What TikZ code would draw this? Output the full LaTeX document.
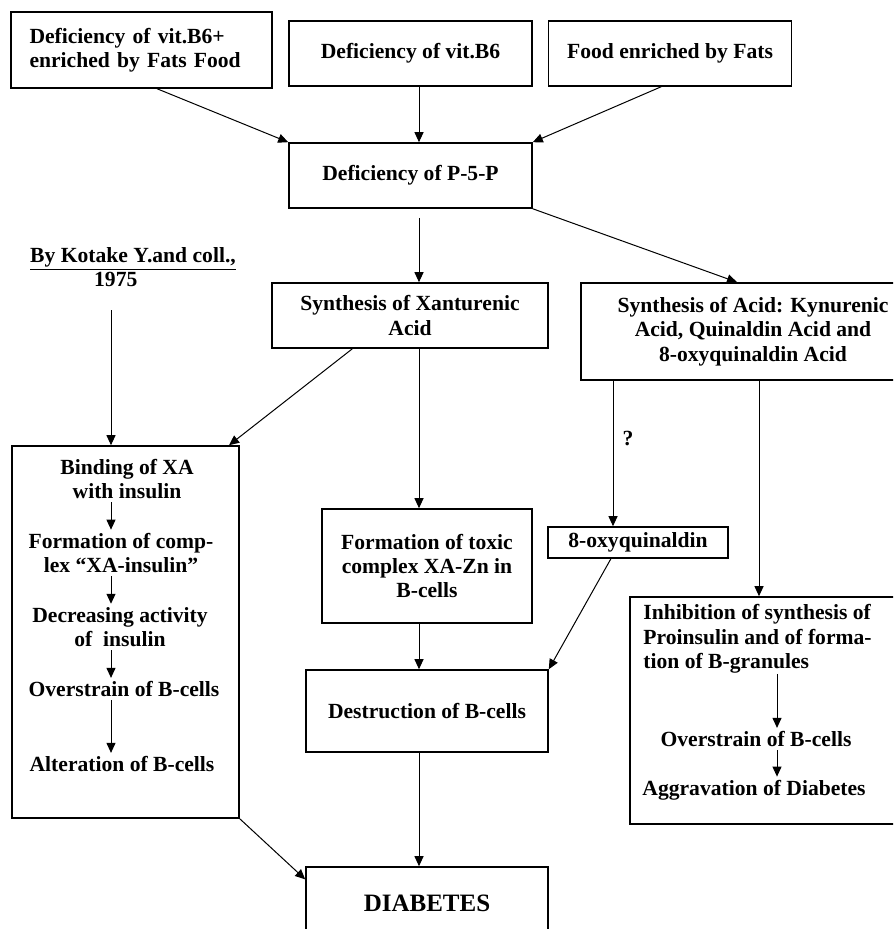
\documentclass[tikz,border=0pt]{standalone}
\usepackage{fontspec}
\setmainfont{Liberation Serif}
\usetikzlibrary{arrows.meta,positioning}
\tikzset{
  cause box/.style={
    rectangle, draw=black, line width=0.8pt, align=center,
    inner sep=0pt, font=\bfseries\fontsize{10.8}{12.2}\selectfont
  },
  step text/.style={
    inner sep=1.5pt, align=center,
    font=\bfseries\fontsize{10.8}{12.2}\selectfont
  },
  cause arrow/.style={-{Triangle[length=5pt,width=4.5pt]}, line width=0.5pt, black}
}

\begin{document}
\begin{tikzpicture}[x=0.5pt, y=-0.5pt]
    \clip (0,0) rectangle (893,929);
    \coordinate (midcol) at (419,0);
    \coordinate (leftcol) at (111,0);
    \coordinate (qcol) at (613,0);
    \coordinate (kcol) at (759,0);
    \coordinate (icol) at (777,0);
    \node[cause box, minimum width=130.5pt, minimum height=38pt, text width=112pt,
      inner xsep=9.25pt, align=left] (vitfat) at (141.5,50) {Deficiency of vit.B6+\\enriched by Fats Food};
    \node[cause box, minimum width=121.5pt, minimum height=32.5pt] (vitb6) at (410.5,53.5) {Deficiency of vit.B6};
    \node[cause box, minimum width=121.5pt, minimum height=32.5pt] (fatfood) at (670,53.5) {Food enriched by Fats};
    \node[cause box, minimum width=121.5pt, minimum height=32.5pt] (pfp) at (410.5,175.5) {Deficiency of P-5-P};
    \node[step text, align=left] (kotake) at (133,267) {\underline{By Kotake Y.and coll.,}\\\hspace*{32pt}1975};
    \node[cause box, minimum width=138pt, minimum height=32.5pt] (xant) at (410,315.5) {Synthesis of Xanturenic\\Acid};
    \node[cause box, minimum width=172pt, minimum height=48.5pt] (kyn) at (753,331.5) {Synthesis of Acid: Kynurenic\\
      Acid, Quinaldin Acid and\\8-oxyquinaldin Acid};
    \node[cause box, minimum width=113.5pt, minimum height=186pt] (xabox) at (125.5,632) {};
    \node[step text] (bind) at (127,479) {Binding of XA\\with insulin};
    \node[step text] (complex) at (121,553) {Formation of comp-\\lex “XA-insulin”};
    \node[step text] (decrease) at (120,627) {Decreasing activity\\of\ \ insulin};
    \node[step text] (overleft) at (124,689) {Overstrain of B-cells};
    \node[step text] (alter) at (122,764) {Alteration of B-cells};
    \node[cause box, minimum width=105pt, minimum height=57pt] (toxic) at (427,566) {Formation of toxic\\complex XA-Zn in\\B-cells};
    \node[cause box, minimum width=90pt, minimum height=15.5pt] (oxyq) at (638,542.5) {8-oxyquinaldin};
    \node[cause box, minimum width=147.5pt, minimum height=113.5pt] (inhibox) at (777.5,710.5) {};
    \node[step text, align=left, inner sep=0pt, anchor=west] (inhib) at (643,639) {Inhibition of synthesis of\\
      Proinsulin and of forma-\\tion of B-granules};
    \node[step text] (overright) at (756,739) {Overstrain of B-cells};
    \node[step text] (aggrav) at (754,790) {Aggravation of Diabetes};
    \node[cause box, minimum width=121pt, minimum height=41pt] (destroy) at (427,711) {Destruction of B-cells};
    \node[cause box, minimum width=121pt, minimum height=36pt,
      font=\bfseries\fontsize{12.5}{14}\selectfont] (diabetes) at (427,903) {DIABETES};
    \draw[cause arrow] (vitfat.-68) -- (pfp.north west);
    \draw[cause arrow] (vitb6.south -| midcol) -- (pfp.north -| midcol);
    \draw[cause arrow] (fatfood.-105) -- (pfp.north east);
    \draw[cause arrow, shorten <=4.5pt] (pfp.south -| midcol) -- (xant.north -| midcol);
    \draw[cause arrow] (pfp.south east) -- (kyn.108);
    \draw[cause arrow, shorten <=10pt] (kotake.south -| leftcol) -- (xabox.north -| leftcol);
    \draw[cause arrow] (xant.-150) -- (xabox.61);
    \draw[cause arrow] (xant.south -| midcol) -- (toxic.north -| midcol);
    \draw[cause arrow] (kyn.south -| qcol) -- node[step text, right=3pt, pos=0.4] (qmark) {?} (oxyq.north -| qcol);
    \draw[cause arrow] (kyn.south -| kcol) -- (inhibox.north -| kcol);
    \draw[cause arrow] (oxyq.-149) -- (destroy.north east);
    \draw[cause arrow] (toxic.south -| midcol) -- (destroy.north -| midcol);
    \draw[cause arrow] (xabox.south east) -- (diabetes.169);
    \draw[cause arrow] (destroy.south -| midcol) -- (diabetes.north -| midcol);
    \draw[cause arrow] (bind.south -| leftcol) -- (complex.north -| leftcol);
    \draw[cause arrow] (complex.south -| leftcol) -- (decrease.north -| leftcol);
    \draw[cause arrow] (decrease.south -| leftcol) -- (overleft.north -| leftcol);
    \draw[cause arrow] (overleft.south -| leftcol) -- (alter.north -| leftcol);
    \draw[cause arrow] (inhib.south -| icol) -- (overright.north -| icol);
    \draw[cause arrow] (overright.south -| icol) -- (aggrav.north -| icol);
\end{tikzpicture}
\end{document}
